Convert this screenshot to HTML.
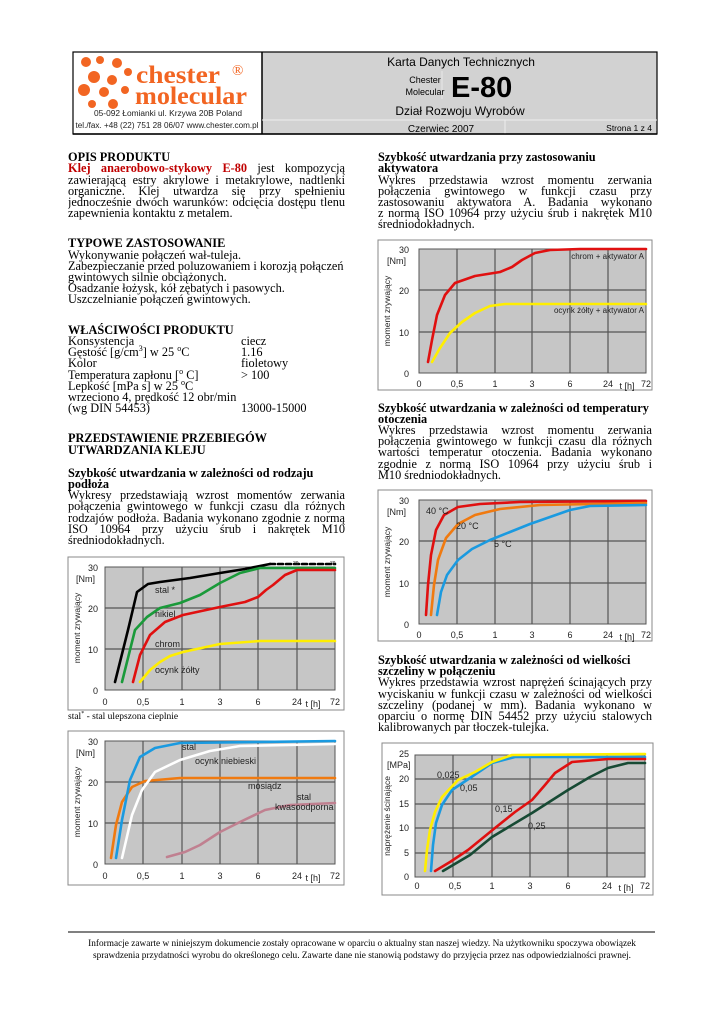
<!DOCTYPE html>
<html><head><meta charset="utf-8"><style>
body{margin:0;background:#fff;}
#pg{position:relative;width:724px;height:1024px;overflow:hidden;font-family:"Liberation Serif",serif;font-size:12.3px;color:#000;}
.l{position:absolute;line-height:14px;white-space:nowrap;}
.j{position:absolute;line-height:14px;text-align:justify;text-align-last:justify;overflow:hidden;height:14px;}
.b{font-weight:bold;}
.L{left:68px;width:277px;}
.R{left:378px;width:274px;}
.red{color:#c00000;font-weight:bold;}
svg text{font-family:"Liberation Sans",sans-serif;}
svg text.sf{font-family:"Liberation Serif",serif;}
</style></head><body><div id="pg">

<svg width="724" height="1024" style="position:absolute;left:0;top:0">
<!-- header -->
<rect x="262" y="52" width="395" height="82" fill="#d2d2d2"/>
<rect x="73" y="52" width="584" height="82" fill="none" stroke="#000" stroke-width="1.2"/>
<line x1="262" y1="52" x2="262" y2="134" stroke="#000" stroke-width="1.5"/>
<line x1="262" y1="120" x2="657" y2="120" stroke="#eee" stroke-width="1"/>
<line x1="505" y1="120" x2="505" y2="134" stroke="#eee" stroke-width="1"/>
<line x1="442" y1="71" x2="442" y2="99" stroke="#e8e8e8" stroke-width="1"/>
<line x1="73" y1="134" x2="657" y2="134" stroke="#000" stroke-width="1.5"/>
<g fill="#f26522">
<circle cx="86" cy="62" r="5"/><circle cx="100" cy="60" r="4"/><circle cx="117" cy="63" r="5"/><circle cx="128" cy="72" r="4"/>
<circle cx="94" cy="77" r="6"/><circle cx="112" cy="80" r="5"/>
<circle cx="84" cy="90" r="6"/><circle cx="104" cy="92" r="5"/><circle cx="125" cy="90" r="4"/>
<circle cx="92" cy="104" r="4"/><circle cx="113" cy="104" r="5"/>
</g>
<text class="sf" x="136" y="83" font-weight="bold" font-size="25" fill="#f26522" textLength="84" lengthAdjust="spacingAndGlyphs">chester</text>
<text class="sf" x="135" y="104" font-weight="bold" font-size="25" fill="#f26522" textLength="112" lengthAdjust="spacingAndGlyphs">molecular</text>
<text class="sf" x="232" y="75" font-size="15" fill="#f26522">®</text>
<text x="168" y="116" font-size="8" text-anchor="middle" fill="#222" textLength="148" lengthAdjust="spacingAndGlyphs">05-092 Łomianki ul. Krzywa 20B  Poland</text>
<text x="167" y="128" font-size="8" text-anchor="middle" fill="#222" textLength="183" lengthAdjust="spacingAndGlyphs">tel./fax. +48 (22) 751 28 06/07  www.chester.com.pl</text>
<text x="461" y="66" font-size="12" text-anchor="middle">Karta Danych Technicznych</text>
<text x="425" y="83" font-size="9" text-anchor="middle">Chester</text>
<text x="425" y="95" font-size="9" text-anchor="middle">Molecular</text>
<text x="451" y="97" font-size="29" font-weight="bold">E-80</text>
<text x="460" y="115" font-size="12" text-anchor="middle">Dział Rozwoju Wyrobów</text>
<text x="441" y="132" font-size="10" text-anchor="middle">Czerwiec 2007</text>
<text x="652" y="131" font-size="8.5" text-anchor="end">Strona 1 z 4</text>

<!-- footer -->
<line x1="68" y1="932" x2="655" y2="932" stroke="#000" stroke-width="1"/>
<text class="sf" x="362" y="946" font-size="9.3" text-anchor="middle">Informacje zawarte w niniejszym dokumencie zostały opracowane w oparciu o aktualny stan naszej wiedzy. Na użytkowniku spoczywa obowiązek</text>
<text class="sf" x="362" y="958" font-size="9.3" text-anchor="middle">sprawdzenia przydatności wyrobu do określonego celu. Zawarte dane nie stanowią podstawy do przyjęcia przez nas odpowiedzialności prawnej.</text>

<!-- CHART 1 -->
<g font-size="9" fill="#222">
<rect x="68" y="557" width="276" height="153" fill="#fff" stroke="#888"/>
<rect x="105" y="567" width="230" height="123" fill="#c6c6c6" stroke="#555"/>
<g stroke="#555" stroke-width="1.2"><line x1="143" y1="567" x2="143" y2="690"/><line x1="182" y1="567" x2="182" y2="690"/><line x1="220" y1="567" x2="220" y2="690"/><line x1="258" y1="567" x2="258" y2="690"/><line x1="297" y1="567" x2="297" y2="690"/><line x1="105" y1="608" x2="335" y2="608"/><line x1="105" y1="649" x2="335" y2="649"/></g>
<text x="98" y="571" text-anchor="end">30</text><text x="76" y="582">[Nm]</text>
<text x="98" y="612" text-anchor="end">20</text><text x="98" y="653" text-anchor="end">10</text><text x="98" y="694" text-anchor="end">0</text>
<text x="105" y="705" text-anchor="middle">0</text><text x="143" y="705" text-anchor="middle">0,5</text><text x="182" y="705" text-anchor="middle">1</text><text x="220" y="705" text-anchor="middle">3</text><text x="258" y="705" text-anchor="middle">6</text><text x="297" y="705" text-anchor="middle">24</text><text x="335" y="705" text-anchor="middle">72</text>
<text x="313" y="707" text-anchor="middle">t [h]</text>
<text transform="translate(80,628) rotate(-90)" text-anchor="middle" font-size="8.5">moment zrywający</text>
<g fill="none" stroke-width="2.6" stroke-linejoin="round" stroke-linecap="round">
<polyline stroke="#000" points="115,682 128,630 137,592 148,584 160,582 190,578 220,573 245,569 270,564"/>
<polyline stroke="#000" stroke-dasharray="5,3" points="270,564 335,564"/>
<polyline stroke="#1a9a3a" points="122,682 135,630 147,617 160,608 180,603 200,595 220,583 240,573 260,568 335,568"/>
<polyline stroke="#e01010" points="133,682 140,655 150,635 165,622 183,615 220,607 245,602 258,597 266,590 273,585 285,575 297,570 335,570"/>
<polyline stroke="#ffee00" points="140,682 150,670 160,662 170,656 183,652 220,644 260,641 335,641"/>
</g>
<text x="155" y="593">stal *</text><text x="155" y="617">nikiel</text><text x="155" y="647">chrom</text><text x="155" y="673">ocynk żółty</text>
<text x="293" y="565" font-size="5">39</text><text x="330" y="565" font-size="5">39</text>
</g>

<!-- CHART 2 -->
<g font-size="9" fill="#222">
<rect x="68" y="731" width="276" height="154" fill="#fff" stroke="#888"/>
<rect x="105" y="741" width="230" height="123" fill="#c6c6c6" stroke="#555"/>
<g stroke="#555" stroke-width="1.2"><line x1="143" y1="741" x2="143" y2="864"/><line x1="182" y1="741" x2="182" y2="864"/><line x1="220" y1="741" x2="220" y2="864"/><line x1="258" y1="741" x2="258" y2="864"/><line x1="297" y1="741" x2="297" y2="864"/><line x1="105" y1="782" x2="335" y2="782"/><line x1="105" y1="823" x2="335" y2="823"/></g>
<text x="98" y="745" text-anchor="end">30</text><text x="76" y="756">[Nm]</text>
<text x="98" y="786" text-anchor="end">20</text><text x="98" y="827" text-anchor="end">10</text><text x="98" y="868" text-anchor="end">0</text>
<text x="105" y="879" text-anchor="middle">0</text><text x="143" y="879" text-anchor="middle">0,5</text><text x="182" y="879" text-anchor="middle">1</text><text x="220" y="879" text-anchor="middle">3</text><text x="258" y="879" text-anchor="middle">6</text><text x="297" y="879" text-anchor="middle">24</text><text x="335" y="879" text-anchor="middle">72</text>
<text x="313" y="881" text-anchor="middle">t [h]</text>
<text transform="translate(80,802) rotate(-90)" text-anchor="middle" font-size="8.5">moment zrywający</text>
<g fill="none" stroke-width="2.6" stroke-linejoin="round" stroke-linecap="round">
<polyline stroke="#f07a10" points="111,858 116,825 122,802 132,787 145,781 180,778 335,778"/>
<polyline stroke="#fff" points="122,858 132,815 142,790 155,772 180,760 210,751 240,746 335,744"/>
<polyline stroke="#1a9ae0" points="116,858 122,820 130,780 140,757 155,748 180,743 335,741"/>
<polyline stroke="#c08090" points="167,857 185,852 200,845 220,832 240,822 265,810 290,805 335,803"/>
</g>
<text x="182" y="750">stal</text><text x="195" y="764">ocynk niebieski</text><text x="248" y="789">mosiądz</text>
<text x="297" y="800">stal</text><text x="275" y="810">kwasoodporna</text>
</g>

<!-- CHART 3 -->
<g font-size="9" fill="#222">
<rect x="378" y="240" width="274" height="150" fill="#fff" stroke="#888"/>
<rect x="419" y="249" width="227" height="124" fill="#c6c6c6" stroke="#555"/>
<g stroke="#555" stroke-width="1.2"><line x1="457" y1="249" x2="457" y2="373"/><line x1="495" y1="249" x2="495" y2="373"/><line x1="532" y1="249" x2="532" y2="373"/><line x1="570" y1="249" x2="570" y2="373"/><line x1="608" y1="249" x2="608" y2="373"/><line x1="419" y1="290" x2="646" y2="290"/><line x1="419" y1="332" x2="646" y2="332"/></g>
<text x="409" y="253" text-anchor="end">30</text><text x="387" y="264">[Nm]</text>
<text x="409" y="294" text-anchor="end">20</text><text x="409" y="336" text-anchor="end">10</text><text x="409" y="377" text-anchor="end">0</text>
<text x="419" y="387" text-anchor="middle">0</text><text x="457" y="387" text-anchor="middle">0,5</text><text x="495" y="387" text-anchor="middle">1</text><text x="532" y="387" text-anchor="middle">3</text><text x="570" y="387" text-anchor="middle">6</text><text x="608" y="387" text-anchor="middle">24</text><text x="646" y="387" text-anchor="middle">72</text>
<text x="627" y="389" text-anchor="middle">t [h]</text>
<text transform="translate(390,311) rotate(-90)" text-anchor="middle" font-size="8.5">moment zrywający</text>
<g fill="none" stroke-width="2.6" stroke-linejoin="round" stroke-linecap="round">
<polyline stroke="#e01010" points="428,362 432,340 437,315 445,295 455,283 475,276 500,272 512,267 522,260 535,253 550,250 580,249 646,249"/>
<polyline stroke="#ffee00" points="432,362 440,348 450,333 462,322 475,313 490,306 505,304 646,304"/>
</g>
<text x="644" y="259" text-anchor="end" font-size="8">chrom + aktywator A</text>
<text x="644" y="313" text-anchor="end" font-size="8">ocynk żółty + aktywator A</text>
</g>

<!-- CHART 4 -->
<g font-size="9" fill="#222">
<rect x="378" y="490" width="274" height="151" fill="#fff" stroke="#888"/>
<rect x="419" y="500" width="227" height="124" fill="#c6c6c6" stroke="#555"/>
<g stroke="#555" stroke-width="1.2"><line x1="457" y1="500" x2="457" y2="624"/><line x1="495" y1="500" x2="495" y2="624"/><line x1="532" y1="500" x2="532" y2="624"/><line x1="570" y1="500" x2="570" y2="624"/><line x1="608" y1="500" x2="608" y2="624"/><line x1="419" y1="541" x2="646" y2="541"/><line x1="419" y1="583" x2="646" y2="583"/></g>
<text x="409" y="504" text-anchor="end">30</text><text x="387" y="515">[Nm]</text>
<text x="409" y="545" text-anchor="end">20</text><text x="409" y="587" text-anchor="end">10</text><text x="409" y="628" text-anchor="end">0</text>
<text x="419" y="638" text-anchor="middle">0</text><text x="457" y="638" text-anchor="middle">0,5</text><text x="495" y="638" text-anchor="middle">1</text><text x="532" y="638" text-anchor="middle">3</text><text x="570" y="638" text-anchor="middle">6</text><text x="608" y="638" text-anchor="middle">24</text><text x="646" y="638" text-anchor="middle">72</text>
<text x="627" y="640" text-anchor="middle">t [h]</text>
<text transform="translate(390,562) rotate(-90)" text-anchor="middle" font-size="8.5">moment zrywający</text>
<g fill="none" stroke-width="2.6" stroke-linejoin="round" stroke-linecap="round">
<polyline stroke="#e01010" points="426,615 428,585 431,555 436,530 444,515 458,507 480,504 520,502 646,501"/>
<polyline stroke="#f07a10" points="431,615 434,585 438,560 446,538 458,524 475,515 500,509 540,505 646,503"/>
<polyline stroke="#1a9ae0" points="437,615 441,592 447,575 458,560 472,549 490,540 510,532 530,524 550,517 570,510 590,506 646,505"/>
</g>
<text x="426" y="514">40 °C</text><text x="456" y="529">20 °C</text><text x="494" y="547">5 °C</text>
</g>

<!-- CHART 5 -->
<g font-size="9" fill="#222">
<rect x="382" y="743" width="271" height="152" fill="#fff" stroke="#888"/>
<rect x="415" y="755" width="230" height="122" fill="#c6c6c6" stroke="#555"/>
<g stroke="#555" stroke-width="1.2"><line x1="453" y1="755" x2="453" y2="877"/><line x1="492" y1="755" x2="492" y2="877"/><line x1="530" y1="755" x2="530" y2="877"/><line x1="568" y1="755" x2="568" y2="877"/><line x1="607" y1="755" x2="607" y2="877"/><line x1="415" y1="779" x2="645" y2="779"/><line x1="415" y1="804" x2="645" y2="804"/><line x1="415" y1="828" x2="645" y2="828"/><line x1="415" y1="853" x2="645" y2="853"/></g>
<text x="409" y="757" text-anchor="end">25</text><text x="387" y="768">[MPa]</text>
<text x="409" y="782" text-anchor="end">20</text><text x="409" y="807" text-anchor="end">15</text><text x="409" y="831" text-anchor="end">10</text><text x="409" y="856" text-anchor="end">5</text><text x="409" y="880" text-anchor="end">0</text>
<text x="417" y="889" text-anchor="middle">0</text><text x="455" y="889" text-anchor="middle">0,5</text><text x="492" y="889" text-anchor="middle">1</text><text x="530" y="889" text-anchor="middle">3</text><text x="568" y="889" text-anchor="middle">6</text><text x="607" y="889" text-anchor="middle">24</text><text x="645" y="889" text-anchor="middle">72</text>
<text x="626" y="891" text-anchor="middle">t [h]</text>
<text transform="translate(390,816) rotate(-90)" text-anchor="middle" font-size="8.5">naprężenie ścinające</text>
<g fill="none" stroke-width="2.6" stroke-linejoin="round" stroke-linecap="round">
<polyline stroke="#1a9ae0" points="431,871 433,845 436,823 442,805 452,790 470,778 492,763 515,757 645,757"/>
<polyline stroke="#ffee00" points="425,871 427,850 430,830 435,812 442,797 458,780 475,772 492,762 512,755 645,754"/>
<polyline stroke="#e01010" points="435,871 450,862 468,850 495,828 515,812 532,800 545,785 555,773 572,762 608,759 645,759"/>
<polyline stroke="#174a34" points="443,871 470,855 492,837 532,813 568,790 590,777 608,768 628,763 645,763"/>
</g>
<text x="437" y="778">0,025</text><text x="460" y="791">0,05</text><text x="495" y="812">0,15</text><text x="528" y="829">0,25</text>
</g>
</svg>

<!-- LEFT TEXT -->
<div class="l L b" style="top:150px">OPIS PRODUKTU</div>
<div class="j L" style="top:161px"><span class="red">Klej anaerobowo-stykowy E-80</span> jest kompozycją</div>
<div class="j L" style="top:173px">zawierającą estry akrylowe i metakrylowe, nadtlenki</div>
<div class="j L" style="top:184px">organiczne. Klej utwardza się przy spełnieniu</div>
<div class="j L" style="top:195px">jednocześnie dwóch warunków: odcięcia dostępu tlenu i</div>
<div class="l L" style="top:206px">zapewnienia kontaktu z metalem.</div>

<div class="l L b" style="top:236px">TYPOWE ZASTOSOWANIE</div>
<div class="l L" style="top:248px">Wykonywanie połączeń wał-tuleja.</div>
<div class="l L" style="top:259px">Zabezpieczanie przed poluzowaniem i korozją połączeń</div>
<div class="l L" style="top:270px">gwintowych silnie obciążonych.</div>
<div class="l L" style="top:281px">Osadzanie łożysk, kół zębatych i pasowych.</div>
<div class="l L" style="top:292px">Uszczelnianie połączeń gwintowych.</div>

<div class="l L b" style="top:323px">WŁAŚCIWOŚCI PRODUKTU</div>
<div class="l" style="left:68px;top:334px">Konsystencja</div><div class="l" style="left:241px;top:334px">ciecz</div>
<div class="l" style="left:68px;top:345px">Gęstość [g/cm<sup style="font-size:8px;line-height:0">3</sup>] w 25 <sup style="font-size:8px;line-height:0">o</sup>C</div><div class="l" style="left:241px;top:345px">1.16</div>
<div class="l" style="left:68px;top:356px">Kolor</div><div class="l" style="left:241px;top:356px">fioletowy</div>
<div class="l" style="left:68px;top:368px">Temperatura zapłonu [<sup style="font-size:8px;line-height:0">o</sup> C]</div><div class="l" style="left:241px;top:368px">&gt; 100</div>
<div class="l" style="left:68px;top:379px">Lepkość  [mPa s] w 25 <sup style="font-size:8px;line-height:0">o</sup>C</div>
<div class="l" style="left:68px;top:390px">wrzeciono 4, prędkość 12 obr/min</div>
<div class="l" style="left:68px;top:401px">(wg DIN 54453)</div><div class="l" style="left:241px;top:401px">13000-15000</div>

<div class="l L b" style="top:431px">PRZEDSTAWIENIE PRZEBIEGÓW</div>
<div class="l L b" style="top:443px">UTWARDZANIA KLEJU</div>
<div class="l L b" style="top:466px">Szybkość utwardzania w zależności od rodzaju</div>
<div class="l L b" style="top:477px">podłoża</div>
<div class="j L" style="top:488px">Wykresy przedstawiają wzrost momentów zerwania</div>
<div class="j L" style="top:499px">połączenia gwintowego w funkcji czasu dla różnych</div>
<div class="j L" style="top:511px">rodzajów podłoża. Badania wykonano zgodnie z normą</div>
<div class="j L" style="top:522px">ISO 10964 przy użyciu śrub i nakrętek M10</div>
<div class="l L" style="top:533px">średniodokładnych.</div>
<div class="l" style="left:68px;top:710px;font-size:9.5px">stal<sup style="font-size:6px;line-height:0">*</sup> - stal ulepszona cieplnie</div>

<!-- RIGHT TEXT -->
<div class="l R b" style="top:150px">Szybkość utwardzania przy zastosowaniu</div>
<div class="l R b" style="top:161px">aktywatora</div>
<div class="j R" style="top:173px">Wykres przedstawia wzrost momentu zerwania</div>
<div class="j R" style="top:184px">połączenia gwintowego w funkcji czasu przy</div>
<div class="j R" style="top:195px">zastosowaniu aktywatora A. Badania wykonano zgodnie</div>
<div class="j R" style="top:206px">z normą ISO 10964 przy użyciu śrub i nakrętek M10</div>
<div class="l R" style="top:217px">średniodokładnych.</div>

<div class="l R b" style="top:401px">Szybkość utwardzania w zależności od temperatury</div>
<div class="l R b" style="top:412px">otoczenia</div>
<div class="j R" style="top:423px">Wykres przedstawia wzrost momentu zerwania</div>
<div class="j R" style="top:434px">połączenia gwintowego w funkcji czasu dla różnych</div>
<div class="j R" style="top:445px">wartości temperatur otoczenia. Badania wykonano</div>
<div class="j R" style="top:457px">zgodnie z normą ISO 10964 przy użyciu śrub i nakrętek</div>
<div class="l R" style="top:468px">M10 średniodokładnych.</div>

<div class="l R b" style="top:653px">Szybkość utwardzania w zależności od wielkości</div>
<div class="l R b" style="top:664px">szczeliny w połączeniu</div>
<div class="j R" style="top:675px">Wykres przedstawia wzrost naprężeń ścinających przy</div>
<div class="j R" style="top:687px">wyciskaniu w funkcji czasu w zależności od wielkości</div>
<div class="j R" style="top:698px">szczeliny (podanej w mm). Badania wykonano w</div>
<div class="j R" style="top:709px">oparciu o normę DIN 54452 przy użyciu stalowych</div>
<div class="l R" style="top:720px">kalibrowanych par tłoczek-tulejka.</div>

</div></body></html>
